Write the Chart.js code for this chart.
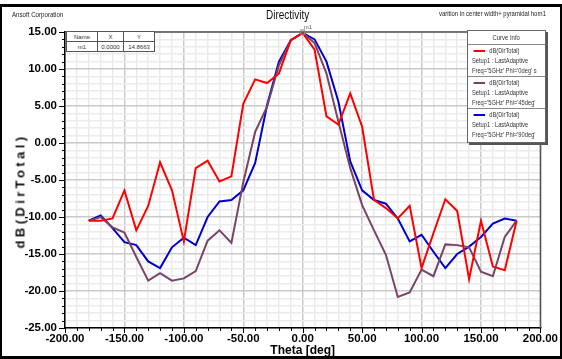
<!DOCTYPE html>
<html>
<head>
<meta charset="utf-8">
<script src="https://cdn.jsdelivr.net/npm/chart.js@4.4.0/dist/chart.umd.min.js"></script>
<style>
  body { margin: 0; background: #fff; }
  #wrap { position: relative; width: 562px; height: 359px; overflow: hidden; font-family: "Liberation Sans", Arial, sans-serif; }
  #frame { position: absolute; left: 0; top: 4px; width: 562px; height: 355px; box-sizing: border-box; border: 2px solid #000; border-top-width: 3px; border-bottom-width: 3px; pointer-events: none; }
  .txt { position: absolute; white-space: nowrap; color: #222; transform-origin: left center; }
  #ytitle { position: absolute; left: 20px; top: 191px; transform: translate(-50%, -50%) rotate(-90deg); font: bold 13px "Liberation Sans", Arial, sans-serif; letter-spacing: 3.4px; white-space: nowrap; color: #111; }
  #legend { position: absolute; left: 467px; top: 30px; width: 77px; height: 111px; background: #fff; border: 1px solid #666; box-shadow: 2px 2px 0 #555; font-size: 7px; color: #333; }
  #legend .hd { height: 13px; line-height: 13px; text-align: center; border-bottom: 1px solid #888; }
  #legend .hd span { display: inline-block; transform: scaleX(0.85); }
  #legend .sec { height: 32px; border-bottom: 1px solid #888; padding-left: 4px; padding-top: 1px; box-sizing: border-box; }
  #legend .sec:last-child { border-bottom: none; }
  #legend .row { height: 10px; line-height: 10px; white-space: nowrap; transform: scaleX(0.82); transform-origin: left center; }
  #legend .sw { display: inline-block; width: 14px; height: 2px; vertical-align: middle; margin: 0 5px 0 2px; }
  #mtab { position: absolute; left: 66px; top: 31px; border-collapse: collapse; font-size: 6px; color: #333; background: #fff; }
  #mtab td { border: 1px solid #555; height: 9px; padding: 0; text-align: center; white-space: nowrap; }
</style>
</head>
<body>
<div id="wrap">
  <canvas id="c" width="562" height="359"></canvas>
  <div class="txt" style="left:12px;top:10px;font-size:7.5px;transform:scaleX(0.82);">Ansoft Corporation</div>
  <div class="txt" style="left:266px;top:8px;font-size:12.5px;color:#111;transform:scaleX(0.8);">Directivity</div>
  <div class="txt" style="left:439px;top:10px;font-size:7px;transform:scaleX(0.85);">varition in center width+ pyramidal horn1</div>
  <div id="ytitle">dB(DirTotal)</div>
  <table id="mtab">
    <tr><td style="width:30px">Name</td><td style="width:25px">X</td><td style="width:30px">Y</td></tr>
    <tr><td>m1</td><td>0.0000</td><td>14.8663</td></tr>
  </table>
  <div id="legend">
    <div class="hd"><span>Curve Info</span></div>
    <div class="sec"><div class="row"><span class="sw" style="background:#ff0000"></span>dB(DirTotal)</div><div class="row">Setup1 : LastAdaptive</div><div class="row">Freq='5GHz' Phi='0deg' s</div></div>
    <div class="sec"><div class="row"><span class="sw" style="background:#7a4468"></span>dB(DirTotal)</div><div class="row">Setup1 : LastAdaptive</div><div class="row">Freq='5GHz' Phi='45deg'</div></div>
    <div class="sec"><div class="row"><span class="sw" style="background:#0000cc"></span>dB(DirTotal)</div><div class="row">Setup1 : LastAdaptive</div><div class="row">Freq='5GHz' Phi='90deg'</div></div>
  </div>
  <div id="frame"></div>
</div>
<script>
// theta in degrees
const theta = [-180, -170, -160, -150, -140, -130, -120, -110, -100, -90, -80, -70, -60, -50, -40, -30, -20, -10,
  0, 10, 20, 30, 40, 50, 60, 70, 80, 90, 100, 110, 120, 130, 140, 150, 160, 170, 180];

// dB(DirTotal) per phi cut
const phi0 = [-10.5, -10.5, -10.2, -6.4, -11.8, -8.5, -2.6, -6.4, -13.3, -3.4, -2.4, -5.2, -4.5, 5.3, 8.6, 8.1, 9.4, 13.9,
  14.87, 12.6, 3.6, 2.5, 6.7, 2.2, -7.7, -8.8, -10.2, -8.5, -16.9, -12.2, -7.6, -9.2, -18.4, -10.5, -16.7, -17.2, -10.5];
const phi45 = [-10.5, -10.0, -11.4, -12.1, -15.4, -18.6, -17.6, -18.6, -18.3, -17.3, -13.2, -11.8, -13.5, -5.3, 1.5, 4.9, 10.5, 13.9,
  14.87, 13.5, 9.4, 2.9, -3.4, -8.4, -11.8, -15.1, -20.8, -20.2, -17.1, -18.0, -13.7, -13.8, -14.1, -17.4, -18.0, -12.7, -10.5];
const phi90 = [-10.5, -9.8, -11.5, -13.4, -13.8, -16.0, -16.9, -14.1, -12.8, -13.8, -10.0, -7.9, -7.7, -6.4, -2.7, 5.1, 11.0, 13.9,
  14.87, 14.0, 11.0, 5.6, -2.5, -6.4, -7.7, -8.2, -10.2, -13.3, -12.4, -14.7, -16.9, -15.0, -14.0, -12.7, -10.9, -10.2, -10.5];

const marker = { name: 'm1', x: 0, y: 14.8663 };

const pts = arr => arr.map((v, i) => ({ x: theta[i], y: v }));
const isMul = (v, m) => Math.abs(v / m - Math.round(v / m)) < 1e-6;

// tick marks, plot frame and marker
const extras = {
  id: 'extras',
  afterDraw(chart) {
    const { ctx, chartArea: a, scales: { x, y } } = chart;
    ctx.save();
    ctx.strokeStyle = '#555';
    ctx.lineWidth = 1.5;
    ctx.beginPath();
    ctx.moveTo(a.left, a.top); ctx.lineTo(a.right, a.top); ctx.lineTo(a.right, a.bottom);
    ctx.stroke();
    ctx.strokeStyle = '#000';
    ctx.lineWidth = 1;
    ctx.beginPath();
    for (let v = -200; v <= 200; v += 10) {
      const px = Math.round(x.getPixelForValue(v)) + 0.5;
      ctx.moveTo(px, a.bottom); ctx.lineTo(px, a.bottom + (isMul(v, 50) ? 5 : 3));
    }
    for (let v = -25; v <= 15; v += 1) {
      const py = Math.round(y.getPixelForValue(v)) + 0.5;
      ctx.moveTo(a.left, py); ctx.lineTo(a.left - (isMul(v, 5) ? 6 : 3), py);
    }
    ctx.stroke();
    const mx = x.getPixelForValue(marker.x), my = y.getPixelForValue(marker.y);
    ctx.strokeStyle = '#888';
    ctx.strokeRect(mx - 2, my - 3, 4, 4);
    ctx.fillStyle = '#666';
    ctx.font = '6px "Liberation Sans", Arial';
    ctx.fillText(marker.name, mx + 1, my - 4);
    ctx.restore();
  }
};

new Chart(document.getElementById('c'), {
  type: 'line',
  data: {
    datasets: [
      { label: "Phi='0deg'", data: pts(phi0), borderColor: '#ff0000' },
      { label: "Phi='45deg'", data: pts(phi45), borderColor: '#7a4468' },
      { label: "Phi='90deg'", data: pts(phi90), borderColor: '#0000cc' }
    ]
  },
  options: {
    responsive: false,
    animation: false,
    events: [],
    layout: { padding: { top: 32, right: 16, left: 0, bottom: 0 } },
    elements: { line: { borderWidth: 2, tension: 0 }, point: { radius: 0 } },
    plugins: { legend: { display: false }, tooltip: { enabled: false } },
    scales: {
      x: {
        type: 'linear', min: -200, max: 200,
        afterFit: s => { s.height = 31; },
        grid: { drawTicks: false, lineWidth: 1.5, color: c => isMul(c.tick.value, 50) ? '#cacaca' : '#ebebeb' },
        border: { color: '#000', width: 1.5 },
        ticks: { stepSize: 10, autoSkip: false, maxRotation: 0, padding: 4, color: '#000',
          font: { family: '"Liberation Sans", Arial', size: 11.5, weight: 'bold' },
          callback: v => isMul(v, 50) ? v.toFixed(2) : '' },
        title: { display: true, text: 'Theta [deg]', color: '#000', padding: { top: 0, bottom: 1 },
          font: { family: '"Liberation Sans", Arial', size: 12, weight: 'bold' } }
      },
      y: {
        min: -25, max: 15,
        afterFit: s => { s.width = 65; },
        grid: { drawTicks: false, lineWidth: 1.5, color: c => isMul(c.tick.value, 5) ? '#cacaca' : '#ebebeb' },
        border: { color: '#000', width: 1.5 },
        ticks: { stepSize: 1, autoSkip: false, padding: 8, color: '#000',
          font: { family: '"Liberation Sans", Arial', size: 11.5, weight: 'bold' },
          callback: v => isMul(v, 5) ? v.toFixed(2) : '' }
      }
    }
  },
  plugins: [extras]
});
</script>
</body>
</html>
